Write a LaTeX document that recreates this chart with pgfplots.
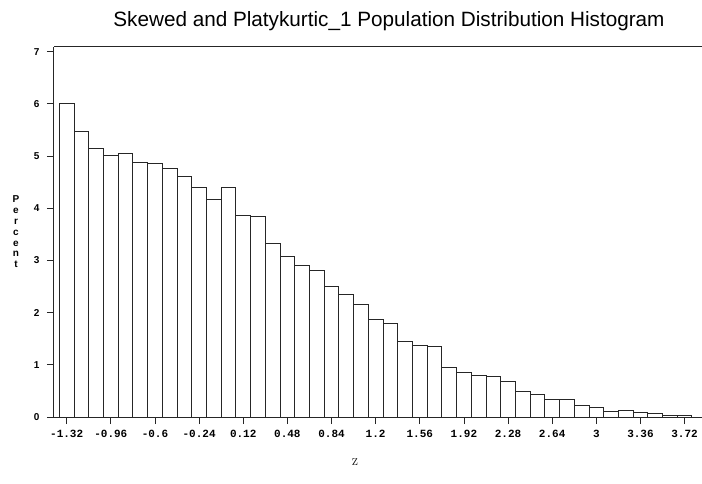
\documentclass[border=0pt]{standalone}
\usepackage{fontspec}
\usepackage{pgfplots}
\pgfplotsset{compat=1.18}
\usepackage{pgfplotstable}
\newfontfamily\sansf{Liberation Sans}
\newfontfamily\monof{Liberation Mono}
\pgfplotstableread{
x y
-1.38 6.00
-1.26 5.48
-1.14 5.15
-1.02 5.02
-0.90 5.05
-0.78 4.87
-0.66 4.85
-0.54 4.76
-0.42 4.61
-0.30 4.39
-0.18 4.16
-0.06 4.39
0.06 3.86
0.18 3.84
0.30 3.33
0.42 3.07
0.54 2.90
0.66 2.80
0.78 2.50
0.90 2.34
1.02 2.15
1.14 1.86
1.26 1.79
1.38 1.45
1.50 1.38
1.62 1.36
1.74 0.94
1.86 0.85
1.98 0.79
2.10 0.77
2.22 0.68
2.34 0.49
2.46 0.43
2.58 0.33
2.70 0.33
2.82 0.22
2.94 0.18
3.06 0.11
3.18 0.13
3.30 0.08
3.42 0.06
3.54 0.03
3.66 0.03
3.78 0.03
}\histdata
\begin{document}
\begin{tikzpicture}
\begin{axis}[
  at={(0pt,0pt)}, anchor=south west,
  scale only axis, width=648pt, height=370.3pt,
  xmin=-1.4236, xmax=3.862, ymin=0, ymax=7.094,
  axis x line=box, axis y line=left,
  every outer y axis line/.append style={-},
  y axis line style={-},
  axis line style={black!85, line width=1pt},
  xtick pos=left, ytick pos=left,
  tick align=outside,
  major tick length=7pt,
  minor tick num=0,
  tick style={black!85, line width=0.8pt},
  xtick={-1.32,-0.96,-0.6,-0.24,0.12,0.48,0.84,1.2,1.56,1.92,2.28,2.64,3,3.36,3.72},
  xticklabels={-1.32,-0.96,-0.6,-0.24,0.12,0.48,0.84,1.2,1.56,1.92,2.28,2.64,3,3.36,3.72},
  ytick={0,1,2,3,4,5,6,7},
  yticklabels={0,1,2,3,4,5,6,7},
  xticklabel style={font=\monof\bfseries\fontsize{11}{12}\selectfont, yshift=-3pt},
  yticklabel style={font=\sansf\bfseries\fontsize{10}{11}\selectfont, xshift=-4pt},
  clip=false,
]
\addplot[ybar interval, fill=white, draw=black!85, line width=0.9pt] table[x=x,y=y] {\histdata};
\end{axis}
\node[anchor=base, font=\sansf\fontsize{20.7}{24}\selectfont] at (335pt,390pt) {Skewed and Platykurtic\_1 Population Distribution Histogram};
\node[align=center, inner sep=0pt, font=\sansf\bfseries\fontsize{10}{10.8}\selectfont] at (-38pt,185pt) {P\\e\\r\\c\\e\\n\\t};
\node[font=\fontsize{10}{12}\selectfont] at (301pt,-45pt) {Z};
\pgfresetboundingbox
\path[use as bounding box] (-54pt,-66pt) rectangle (648pt,417pt);
\end{tikzpicture}
\end{document}
